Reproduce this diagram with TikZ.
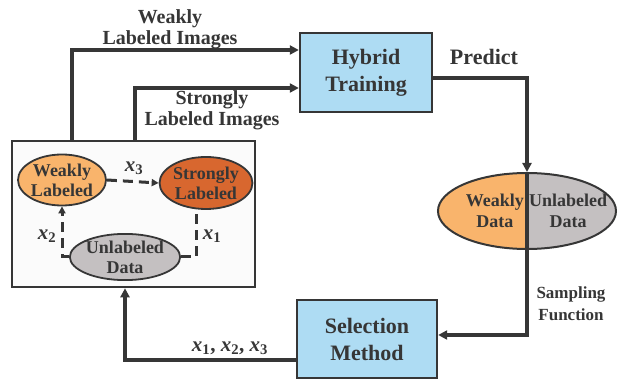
\documentclass[tikz,border=0pt]{standalone}
\usepackage{fontspec}
\setmainfont{Liberation Serif}
\usetikzlibrary{arrows.meta,shapes.geometric}
\definecolor{ink}{HTML}{363636}
\definecolor{boxblue}{HTML}{AEDCF3}
\definecolor{lorange}{HTML}{F9B46C}
\definecolor{dorange}{HTML}{D8672F}
\definecolor{lgray}{HTML}{C4C0C1}
\definecolor{panel}{HTML}{FBFBFB}
\newcommand{\xs}[1]{{\itshape x}\textsubscript{#1}}
\tikzset{
  conn/.style={draw=ink, line width=3.2pt},
  arr/.style={conn, -{Triangle[length=9pt,width=9pt]}},
  dconn/.style={draw=ink, line width=3pt, dash pattern=on 10pt off 6pt},
  darr/.style={dconn, -{Triangle[length=7pt,width=7pt]}},
  procbox/.style={draw=ink, line width=2.4pt, fill=boxblue, text=ink, font=\fontsize{22}{27}\selectfont\bfseries, align=center, inner sep=0pt},
  ell/.style={ellipse, draw=ink, line width=1.8pt, text=ink, font=\fontsize{18}{20}\selectfont\bfseries, align=center, inner sep=0pt},
  etxt/.style={rectangle, text=ink, font=\fontsize{18}{21}\selectfont\bfseries, align=center, inner sep=0pt},
  lbl/.style={text=ink, font=\fontsize{20}{21}\selectfont\bfseries, align=center, inner sep=0pt},
  slbl/.style={text=ink, font=\fontsize{17}{22}\selectfont\bfseries, align=center, inner sep=0pt},
  xlbl/.style={text=ink, font=\fontsize{21}{22}\selectfont\bfseries, inner sep=0pt},
}
\begin{document}
\begin{tikzpicture}[x=1pt,y=-1pt]
\useasboundingbox (0,0) rectangle (619,379);
% panel
\node[draw=ink, line width=2.6pt, fill=panel, minimum width=243pt, minimum height=146pt, inner sep=0pt] (panel) at (133.5,214) {};
% ellipses in panel
\node[ell, fill=lorange, minimum width=88pt, minimum height=51pt] (wl) at (62,180) {Weakly\\Labeled};
\node[ell, fill=dorange, minimum width=88pt, minimum height=52pt] (sl) at (206,183) {Strongly\\Labeled};
\node[ell, fill=lgray, minimum width=99pt, minimum height=44pt] (ul) at (125,257) {Unlabeled\\Data};
% boxes
\node[procbox, minimum width=132pt, minimum height=79pt] (hyb) at (366,72.5) {Hybrid\\Training};
\node[procbox, minimum width=140pt, minimum height=78pt] (sel) at (367,339) {Selection\\Method};
% split ellipse
\begin{scope}
\clip (430,160) rectangle (527,260);
\fill[lorange] (527,211) ellipse [x radius=89, y radius=38];
\end{scope}
\begin{scope}
\clip (527,160) rectangle (625,260);
\fill[lgray] (527,211) ellipse [x radius=89, y radius=38];
\end{scope}
\node[ellipse, draw=ink, line width=2pt, minimum width=178pt, minimum height=76pt, inner sep=0pt] (sp) at (527,211) {};
\node[etxt, anchor=east] (wd) at (524,211) {Weakly\\Data};
\node[etxt, anchor=west] (ud) at (529,211) {Unlabeled\\Data};
% connectors
\coordinate (wtop) at (72,50);
\coordinate (stop) at (135,88);
\draw[arr] (panel.north -| wtop) |- ([yshift=22.5pt]hyb.west);
\draw[arr] (panel.north -| stop) |- ([yshift=-15.5pt]hyb.west);
\draw[arr] ([yshift=-5.5pt]hyb.east) -| (sp.north);
\draw[conn] (sp.north) -- (sp.south);
\draw[arr] (sp.south) |- ([yshift=4pt]sel.east);
\draw[arr] ([yshift=-21pt]sel.west) -| ([xshift=-8.5pt]panel.south);
% dashed
\draw[darr] (wl.east) -- (sl.west);
\draw[darr] (ul.west) -| (wl.south);
\draw[dconn] (ul.east) -| ([xshift=-10pt]sl.south);
% labels
\node[lbl] (l1) at (170,29) {Weakly\\Labeled Images};
\node[lbl] (l2) at (212,110) {Strongly\\Labeled Images};
\node[lbl, font=\fontsize{22}{23}\selectfont\bfseries] (l3) at (484,57) {Predict};
\node[slbl] (l4) at (571,304) {Sampling\\Function};
\node[xlbl] (l5) at (230,348) {\xs{1}, \xs{2}, \xs{3}};
\node[xlbl] (l6) at (134,168) {\xs{3}};
\node[xlbl] (l7) at (47,236) {\xs{2}};
\node[xlbl] (l8) at (212,236) {\xs{1}};
\end{tikzpicture}
\end{document}
